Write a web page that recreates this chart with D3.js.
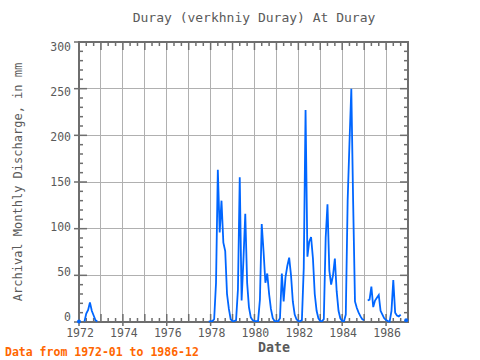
<!DOCTYPE html>
<html><head><meta charset="utf-8">
<script src="https://cdn.jsdelivr.net/npm/d3@7"></script>
<style>body{margin:0;background:#fff}svg{display:block}text{font-family:"DejaVu Sans Mono","Liberation Mono",monospace}</style>
</head><body>
<svg id="c" width="480" height="360"></svg>
<script>
const title = "Duray (verkhniy Duray) At Duray";
const yLabel = "Archival Monthly Discharge, in mm";
const xLabel = "Date";
const footer = "Data from 1972-01 to 1986-12";
const startYear = 1972;
const yTicks = [0, 50, 100, 150, 200, 250, 300];
const xTickYears = [1972, 1974, 1976, 1978, 1980, 1982, 1984, 1986];
// monthly values, one row per year (null = missing)
const v1972 = [0.5, null, null, 0.5, 9, 13, 21, 12, 7, 2, 0.5, null];
const v1973 = [null, null, null, null, null, null, null, null, null, null, null, null];
const v1974 = [null, null, null, null, null, null, null, null, null, null, null, null];
const v1975 = [null, null, null, null, null, null, null, null, null, null, null, null];
const v1976 = [null, null, null, null, null, null, null, null, null, null, null, null];
const v1977 = [null, null, null, null, null, null, null, null, null, null, null, 0.5];
const v1978 = [1, 1, 3, 42, 163, 96, 130, 85, 76, 30, 14, 3];
const v1979 = [1, 1, 2, 35, 155, 23, 66, 116, 42, 16, 5, 2];
const v1980 = [1, 1, 1, 24, 105, 75, 42, 52, 30, 14, 4, 1];
const v1981 = [1, 1, 4, 52, 22, 48, 60, 69, 50, 22, 8, 3];
const v1982 = [1, 1, 2, 58, 227, 70, 86, 91, 68, 30, 12, 4];
const v1983 = [1, 1, 3, 90, 126, 55, 40, 50, 68, 33, 12, 4];
const v1984 = [1, 1, 8, 130, 191, 250, 130, 22, 15, 10, 6, 3];
const v1985 = [2, null, 23, 24, 38, 16, 23, 26, 29, 12, 8, 4];
const v1986 = [2, 1, 0.5, 12, 45, 10, 7, 6, 8, null, null, 2];
const years = [v1972, v1973, v1974, v1975, v1976, v1977, v1978, v1979, v1980, v1981, v1982, v1983, v1984, v1985, v1986];

const data = [];
years.forEach((arr, yi) => arr.forEach((v, m) => data.push({d: new Date(startYear + yi, m, 1), v})));

const svg = d3.select("#c");
const L = 79, R = 408, T = 42, B = 322;
const x = d3.scaleTime().domain([new Date(1972, 0, 1), new Date(1987, 0, 1)]).range([L, R]);
const y = d3.scaleLinear().domain([0, 300]).range([B, T]);
// tick labels sit on a slightly compressed band inside the frame
const yLab = d3.scaleLinear().domain([0, 300]).range([317, 47]);
const grey = "#6e6e6e";
const txt = "#5a5a5a";

// grid
const g = svg.append("g");
d3.range(1973, 1987).forEach(yr => {
  g.append("line").attr("x1", x(new Date(yr, 0, 1))).attr("x2", x(new Date(yr, 0, 1)))
    .attr("y1", T).attr("y2", B).attr("stroke", "#b0b0b0").attr("stroke-width", 1).attr("shape-rendering", "crispEdges");
});
yTicks.slice(1, -1).forEach(t => {
  g.append("line").attr("x1", L).attr("x2", R).attr("y1", y(t)).attr("y2", y(t))
    .attr("stroke", "#b0b0b0").attr("stroke-width", 1).attr("shape-rendering", "crispEdges");
});

// minor / major ticks inside
const tk = svg.append("g").attr("stroke", grey).attr("stroke-width", 1.5);
d3.range(0, 301, 10).forEach(t => {
  const len = t % 50 === 0 ? 8 : 4;
  tk.append("line").attr("x1", L).attr("x2", L + len).attr("y1", y(t)).attr("y2", y(t));
  tk.append("line").attr("x1", R).attr("x2", R - len).attr("y1", y(t)).attr("y2", y(t));
});
for (let i = 0; i <= 45; i++) {
  const d = new Date(1972, i * 4, 1);
  const len = i % 3 === 0 ? 8 : 4;
  tk.append("line").attr("x1", x(d)).attr("x2", x(d)).attr("y1", B).attr("y2", B - len);
  tk.append("line").attr("x1", x(d)).attr("x2", x(d)).attr("y1", T).attr("y2", T + len);
}
// outward ticks
yTicks.forEach(t => tk.append("line").attr("x1", L - 5).attr("x2", L).attr("y1", y(t)).attr("y2", y(t)));
xTickYears.forEach(yr => tk.append("line").attr("x1", x(new Date(yr, 0, 1))).attr("x2", x(new Date(yr, 0, 1))).attr("y1", B).attr("y2", B + 4));

// frame
svg.append("rect").attr("x", L).attr("y", T).attr("width", R - L).attr("height", B - T)
  .attr("fill", "none").attr("stroke", grey).attr("stroke-width", 2);

// line
const line = d3.line().defined(d => d.v != null).x(d => x(d.d)).y(d => y(d.v));
svg.append("path").datum(data).attr("d", line).attr("fill", "none")
  .attr("stroke", "#0066ff").attr("stroke-width", 1.8).attr("stroke-linejoin", "miter");
const iso = data.filter((d, i) => d.v != null && (i === 0 || data[i - 1].v == null) && (i === data.length - 1 || data[i + 1].v == null));
svg.selectAll("circle.iso").data(iso).join("circle").attr("class", "iso")
  .attr("cx", d => x(d.d)).attr("cy", d => y(d.v)).attr("r", 2).attr("fill", "#0066ff");

// labels
yTicks.forEach(t => svg.append("text").attr("x", 71).attr("y", yLab(t) + 4).attr("text-anchor", "end")
  .attr("font-size", 11.5).attr("fill", txt).text(t));
xTickYears.forEach(yr => svg.append("text").attr("x", x(new Date(yr, 0, 1)) + 1).attr("y", 337).attr("text-anchor", "middle")
  .attr("font-size", 11.5).attr("fill", txt).text(yr));
svg.append("text").attr("x", 254).attr("y", 22).attr("text-anchor", "middle").attr("font-size", 13).attr("fill", txt).text(title);
svg.append("text").attr("x", 274).attr("y", 352).attr("text-anchor", "middle").attr("font-size", 13.3).attr("font-weight", "bold").attr("fill", txt).text(xLabel);
svg.append("text").attr("transform", "translate(22,182) rotate(-90)").attr("text-anchor", "middle").attr("font-size", 12).attr("fill", txt).text(yLabel);
svg.append("text").attr("x", 5).attr("y", 356).attr("font-size", 11.5).attr("font-weight", "bold").attr("fill", "#ff6600").text(footer);
</script>
</body></html>
